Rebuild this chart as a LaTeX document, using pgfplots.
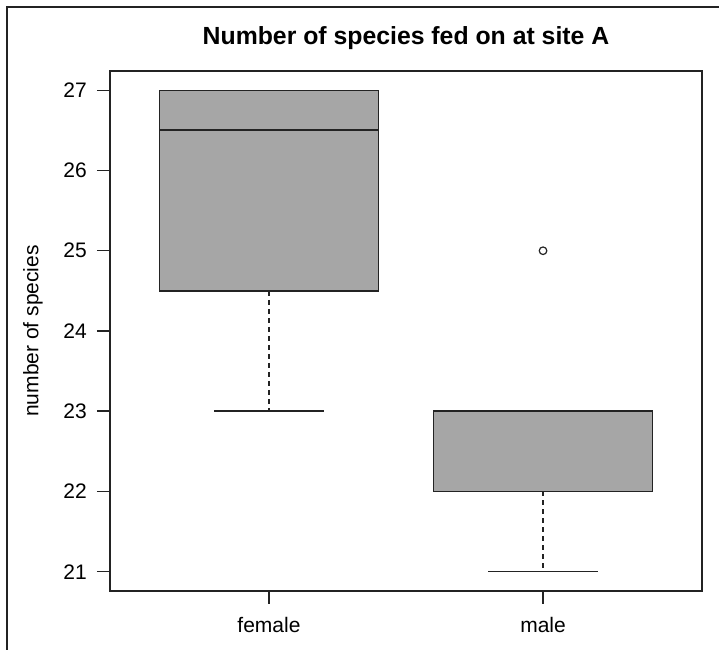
\documentclass[border=0pt]{standalone}
\usepackage{fontspec}
\setmainfont{Liberation Sans}
\usepackage{pgfplots}
\pgfplotsset{compat=1.18}
\definecolor{boxgray}{RGB}{166,166,166}
\definecolor{linecol}{RGB}{35,35,35}
\begin{document}
\begin{tikzpicture}
\useasboundingbox (0,0) rectangle (719bp,650bp);
\draw[linecol, line width=1.5bp] (7bp,0) -- (7bp,643bp) -- (719bp,643bp);
\begin{axis}[
  at={(110bp,59bp)}, anchor=south west,
  scale only axis, width=592bp, height=520bp,
  xmin=0.42, xmax=2.58, ymin=20.76, ymax=27.24,
  xtick={1,2}, xticklabels={female,male},
  ytick={21,22,23,24,25,26,27},
  tick pos=left, tick align=outside, major tick length=13bp,
  tick style={draw=linecol, line width=1.5bp},
  axis line style={draw=linecol, line width=1.5bp},
  font=\fontsize{21bp}{25bp}\selectfont,
  /pgf/number format/assume math mode=true,
  yticklabel style={anchor=east, inner sep=0pt, xshift=-10bp},
  xticklabel style={anchor=north, inner sep=0pt, yshift=-13bp},
  title={Number of species fed on at site A},
  title style={at={(axis description cs:0.5,1.0385)}, anchor=base, font=\fontsize{24.8bp}{29bp}\selectfont\bfseries},
  ylabel={number of species},
  ylabel style={at={(axis description cs:-0.130,0.5)}, anchor=center},
  clip=false,
]
% female: whiskers 23..27, box 24.5..27, median 26.5
\addplot[fill=boxgray, draw=linecol, line width=1.5bp, line join=miter]
  coordinates {(0.6,24.5) (1.4,24.5) (1.4,27) (0.6,27) (0.6,24.5)} -- cycle;
\addplot[draw=linecol, line width=1.8bp] coordinates {(0.6,26.5) (1.4,26.5)};
\addplot[draw=linecol, line width=1.5bp, dash pattern=on 5bp off 4bp] coordinates {(1,24.5) (1,23)};
\addplot[draw=linecol, line width=1.5bp] coordinates {(0.8,23) (1.2,23)};
% male: whiskers 21..23, box 22..23, median 22, outlier 25
\addplot[fill=boxgray, draw=linecol, line width=1.5bp, line join=miter]
  coordinates {(1.6,22) (2.4,22) (2.4,23) (1.6,23) (1.6,22)} -- cycle;
\addplot[draw=linecol, line width=1.8bp] coordinates {(1.6,22) (2.4,22)};
\addplot[draw=linecol, line width=1.5bp, dash pattern=on 5bp off 4bp] coordinates {(2,22) (2,21)};
\addplot[draw=linecol, line width=1.5bp] coordinates {(1.8,21) (2.2,21)};
\addplot[only marks, mark=o, mark size=3.8bp, draw=linecol, line width=1.2bp] coordinates {(2,25)};
\end{axis}
\end{tikzpicture}
\end{document}
